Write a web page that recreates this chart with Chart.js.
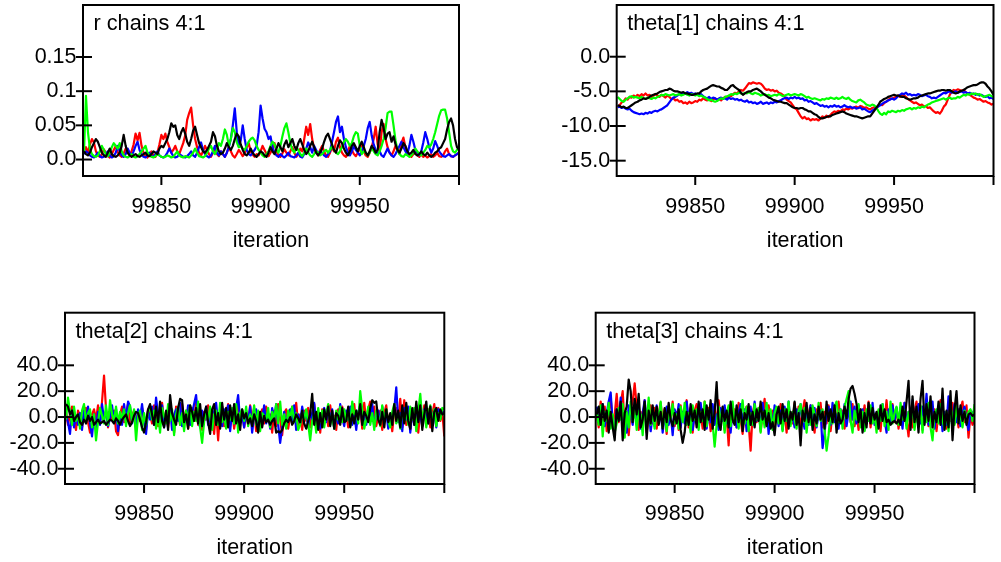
<!DOCTYPE html>
<html>
<head>
<meta charset="utf-8">
<script src="https://cdn.jsdelivr.net/npm/chart.js@4/dist/chart.umd.min.js"></script>
<style>
  html, body { margin: 0; padding: 0; background: #fff; }
  body { width: 1001px; height: 562px; position: relative; overflow: hidden; }
  .panel { position: absolute; }
</style>
</head>
<body>
<div class="panel" id="p1" style="left:0px;top:0px;width:470px;height:254px"><canvas id="c1"></canvas></div>
<div class="panel" id="p2" style="left:500px;top:0px;width:501px;height:254px"><canvas id="c2"></canvas></div>
<div class="panel" id="p3" style="left:0px;top:290px;width:470px;height:272px"><canvas id="c3"></canvas></div>
<div class="panel" id="p4" style="left:500px;top:290px;width:501px;height:272px"><canvas id="c4"></canvas></div>
<script>
// ---------- data ----------
const firstIteration = 99811;
const xTickValues = [99850, 99900, 99950, 100000];
const xTickLabels = ['99850', '99900', '99950', ''];
const chainColors = { red: '#ff0000', blue: '#0000ff', green: '#00ff00', black: '#000000' };

// r
const rRed = [
.012,.018,.010,.022,.030,.025,.012,.006,.004,.008,
.015,.010,.005,.003,.008,.014,.020,.011,.006,.004,
.009,.016,.010,.006,.012,.022,.038,.028,.039,.020,
.010,.005,.003,.007,.012,.006,.004,.010,.022,.036,
.030,.038,.026,.018,.010,.014,.020,.012,.008,.016,
.024,.035,.058,.068,.076,.050,.030,.018,.010,.006,
.012,.020,.014,.008,.004,.010,.016,.008,.005,.012,
.008,.004,.010,.018,.012,.006,.003,.008,.014,.010,
.005,.009,.018,.024,.012,.007,.004,.008,.006,.012,
.020,.014,.008,.005,.010,.016,.024,.012,.006,.004,
.009,.015,.010,.006,.012,.018,.010,.004,.008,.016,
.012,.030,.048,.036,.052,.030,.016,.010,.006,.014,
.020,.012,.006,.004,.010,.018,.012,.026,.032,.018,
.010,.006,.004,.012,.020,.014,.008,.005,.010,.016,
.024,.012,.006,.004,.010,.018,.030,.048,.022,.012,
.040,.052,.030,.018,.010,.006,.012,.020,.014,.008,
.024,.032,.018,.010,.006,.004,.008,.012,.006,.004,
.008,.004,.006,.003,.005,.008,.004,.006,.010,.005,
.004,.006,.012,.016,.008,.005,.004,.006,.008,.010];
const rBlue = [
.008,.012,.010,.006,.004,.003,.006,.010,.005,.003,
.004,.008,.012,.006,.003,.005,.010,.020,.012,.006,
.004,.008,.016,.010,.005,.012,.020,.026,.014,.008,
.004,.003,.006,.010,.005,.004,.008,.012,.006,.004,
.003,.005,.010,.016,.010,.005,.003,.004,.008,.006,
.004,.003,.005,.008,.012,.006,.004,.010,.018,.025,
.014,.008,.005,.003,.006,.012,.020,.010,.006,.012,
.008,.004,.010,.018,.030,.050,.075,.040,.020,.028,
.050,.030,.014,.008,.006,.010,.014,.020,.040,.079,
.060,.045,.040,.030,.034,.018,.010,.006,.004,.008,
.005,.003,.006,.010,.005,.004,.003,.006,.010,.004,
.003,.008,.016,.025,.018,.010,.020,.014,.008,.012,
.010,.006,.004,.008,.012,.026,.040,.055,.063,.040,
.048,.030,.018,.010,.006,.012,.020,.014,.010,.006,
.012,.020,.030,.046,.055,.035,.022,.014,.008,.012,
.006,.004,.010,.016,.010,.006,.004,.008,.014,.020,
.026,.018,.012,.008,.020,.036,.026,.014,.010,.006,
.012,.025,.040,.030,.018,.010,.016,.027,.020,.012,
.008,.005,.004,.006,.008,.005,.004,.006,.008,.010];
const rGreen = [
.010,.093,.040,.015,.008,.005,.004,.006,.012,.020,
.014,.008,.005,.010,.018,.024,.020,.016,.024,.012,
.006,.004,.003,.005,.008,.004,.003,.005,.008,.012,
.016,.020,.010,.006,.004,.003,.005,.008,.006,.004,
.003,.004,.006,.005,.003,.004,.008,.012,.006,.004,
.003,.005,.004,.003,.006,.010,.016,.010,.005,.004,
.003,.005,.010,.016,.020,.012,.008,.014,.024,.020,
.030,.044,.036,.020,.030,.046,.040,.025,.018,.020,
.016,.014,.020,.026,.030,.032,.028,.020,.014,.010,
.006,.004,.008,.012,.020,.026,.022,.014,.010,.020,
.034,.046,.053,.040,.024,.014,.010,.018,.014,.008,
.005,.010,.016,.010,.006,.004,.008,.012,.010,.006,
.008,.012,.014,.010,.014,.020,.014,.010,.008,.012,
.018,.026,.030,.026,.020,.024,.034,.040,.038,.020,
.008,.012,.010,.006,.010,.018,.012,.008,.006,.012,
.020,.030,.046,.068,.070,.070,.050,.028,.014,.008,
.005,.004,.008,.006,.004,.006,.010,.016,.012,.008,
.006,.010,.014,.020,.018,.022,.030,.040,.052,.064,
.072,.073,.073,.060,.040,.020,.012,.010,.014,.018];
const rBlack = [
.012,.008,.006,.010,.018,.024,.030,.026,.018,.010,
.006,.004,.010,.016,.008,.005,.004,.006,.010,.020,
.036,.020,.010,.006,.004,.006,.008,.005,.004,.006,
.008,.010,.006,.005,.008,.012,.010,.008,.016,.020,
.018,.024,.030,.040,.053,.048,.050,.036,.030,.040,
.046,.038,.026,.020,.030,.042,.048,.036,.024,.018,
.012,.010,.014,.020,.026,.040,.034,.020,.012,.008,
.010,.016,.024,.018,.014,.020,.030,.038,.034,.022,
.014,.008,.006,.010,.016,.010,.006,.004,.008,.012,
.010,.006,.004,.010,.018,.012,.008,.016,.024,.018,
.012,.022,.028,.018,.024,.030,.020,.014,.024,.030,
.022,.014,.008,.012,.020,.026,.018,.010,.006,.010,
.016,.026,.034,.038,.030,.022,.014,.010,.020,.028,
.024,.016,.010,.006,.012,.020,.024,.018,.012,.020,
.026,.018,.010,.006,.012,.020,.016,.010,.014,.040,
.058,.046,.030,.038,.040,.026,.034,.022,.014,.010,
.016,.024,.020,.012,.008,.010,.014,.008,.006,.008,
.012,.008,.006,.010,.006,.004,.006,.010,.012,.016,
.018,.024,.030,.044,.055,.060,.050,.030,.018,.014];
const rTickValues = [0, 0.05, 0.1, 0.15];
const rTickLabels = ['0.0', '0.05', '0.1', '0.15'];

// theta[1]
const t1Red = [
-7.2,-7.0,-6.6,-6.4,-6.0,-6.2,-5.8,-5.9,-5.6,-5.8,
-5.5,-5.7,-5.4,-5.6,-5.3,-5.6,-5.5,-5.8,-5.6,-5.4,
-5.6,-5.8,-5.5,-5.7,-5.9,-5.6,-5.8,-6.1,-6.0,-6.3,
-6.2,-6.5,-6.4,-6.7,-6.6,-6.8,-6.5,-6.7,-6.6,-6.4,
-6.5,-6.2,-6.3,-6.0,-6.2,-6.3,-6.1,-6.4,-6.2,-6.0,
-6.2,-6.1,-6.3,-6.0,-5.8,-5.9,-5.6,-5.7,-5.4,-5.2,
-5.3,-5.0,-4.8,-4.9,-4.6,-4.2,-3.8,-3.9,-3.7,-3.8,
-3.9,-3.8,-3.9,-4.2,-4.6,-4.8,-4.7,-4.9,-4.8,-5.0,
-4.9,-5.2,-5.3,-5.5,-5.8,-6.2,-6.4,-6.6,-7.0,-7.4,
-7.6,-8.1,-8.6,-8.9,-8.7,-9.0,-8.9,-9.2,-9.0,-9.1,
-9.0,-9.2,-8.9,-8.6,-8.8,-8.5,-8.7,-8.4,-8.1,-7.9,
-8.0,-7.8,-7.9,-7.6,-7.7,-7.5,-7.6,-7.4,-7.5,-7.3,
-7.2,-7.4,-7.1,-7.2,-7.4,-7.3,-7.5,-7.6,-7.4,-7.3,
-7.4,-7.1,-6.9,-7.0,-6.7,-6.5,-6.3,-6.0,-6.1,-5.9,
-5.8,-5.6,-5.8,-5.5,-5.6,-5.8,-6.1,-6.3,-6.5,-6.7,
-6.6,-6.8,-7.0,-6.9,-7.2,-7.1,-7.4,-7.3,-7.6,-7.9,
-8.1,-8.0,-8.2,-7.8,-7.2,-6.9,-6.2,-5.5,-5.0,-4.8,
-4.9,-4.7,-4.8,-4.9,-4.8,-5.1,-5.3,-5.5,-5.7,-5.9,
-6.0,-6.2,-6.1,-6.3,-6.5,-6.4,-6.6,-6.7,-6.9,-6.8];
const t1Blue = [
-7.3,-7.2,-7.4,-7.3,-7.5,-7.6,-7.5,-7.8,-8.0,-8.1,
-8.2,-8.3,-8.2,-8.3,-8.1,-8.2,-8.0,-8.1,-7.9,-7.8,
-7.9,-7.7,-7.6,-7.4,-7.2,-7.0,-6.6,-6.2,-5.9,-5.8,
-5.6,-5.4,-5.5,-5.2,-5.3,-5.1,-5.3,-5.2,-5.4,-5.3,
-5.5,-5.6,-5.4,-5.7,-5.9,-6.0,-5.8,-6.1,-5.9,-6.0,
-6.2,-6.0,-5.9,-6.1,-6.0,-6.2,-5.9,-6.1,-6.0,-6.2,
-6.1,-6.3,-6.2,-6.4,-6.5,-6.3,-6.6,-6.5,-6.7,-6.6,
-6.8,-6.7,-6.5,-6.8,-6.7,-6.6,-6.8,-6.6,-6.7,-6.5,
-6.6,-6.4,-6.3,-6.1,-6.0,-5.9,-6.1,-5.9,-6.0,-5.8,
-6.0,-5.9,-6.1,-6.0,-6.3,-6.2,-6.5,-6.4,-6.6,-6.8,
-6.7,-6.9,-7.1,-7.0,-7.2,-7.1,-7.3,-7.1,-7.2,-7.0,
-7.2,-7.1,-7.3,-7.2,-7.0,-7.2,-7.3,-7.2,-7.4,-7.3,
-7.5,-7.4,-7.3,-7.6,-7.5,-7.7,-7.9,-8.0,-7.8,-7.6,
-7.4,-7.2,-7.0,-6.8,-6.6,-6.5,-6.3,-6.2,-6.0,-6.2,
-6.0,-5.7,-5.5,-5.3,-5.4,-5.2,-5.5,-5.4,-5.6,-5.5,
-5.6,-5.4,-5.5,-5.7,-5.6,-5.5,-5.7,-5.8,-6.0,-5.9,
-6.0,-5.8,-5.6,-5.4,-5.2,-5.3,-5.1,-5.0,-5.2,-5.1,
-5.0,-5.2,-5.1,-5.0,-5.2,-5.1,-5.3,-5.2,-5.4,-5.3,
-5.5,-5.4,-5.6,-5.5,-5.7,-5.8,-5.7,-6.0,-5.9,-6.1];
const t1Green = [
-5.8,-6.1,-6.4,-6.5,-6.2,-6.0,-5.8,-5.7,-5.9,-5.8,
-5.9,-6.0,-5.8,-6.0,-6.1,-5.9,-6.0,-6.1,-5.9,-6.0,
-5.8,-5.7,-5.5,-5.6,-5.4,-5.5,-5.6,-5.5,-5.4,-5.6,
-5.5,-5.4,-5.6,-5.5,-5.3,-5.5,-5.6,-5.4,-5.5,-5.6,
-5.5,-5.7,-5.6,-5.8,-5.9,-6.1,-6.3,-6.2,-6.4,-6.5,
-6.4,-6.2,-6.0,-6.1,-5.8,-5.7,-5.6,-5.4,-5.5,-5.3,
-5.4,-5.2,-5.3,-5.4,-5.2,-5.3,-5.1,-5.3,-5.4,-5.2,
-5.3,-5.4,-5.6,-5.5,-5.4,-5.6,-5.5,-5.7,-5.6,-5.5,
-5.6,-5.4,-5.5,-5.7,-5.6,-5.5,-5.4,-5.6,-5.5,-5.4,
-5.5,-5.6,-5.4,-5.5,-5.7,-5.9,-5.8,-6.0,-6.1,-6.0,
-6.1,-6.2,-6.3,-6.1,-6.2,-6.0,-6.1,-5.9,-6.0,-6.1,
-5.9,-6.1,-6.0,-5.8,-6.0,-6.1,-5.9,-6.2,-6.4,-6.5,
-6.6,-6.3,-6.2,-6.4,-6.6,-6.9,-7.0,-7.1,-6.9,-7.0,
-7.3,-7.8,-8.2,-8.4,-8.1,-8.3,-7.9,-8.0,-7.8,-7.9,
-8.0,-7.8,-7.9,-7.7,-7.8,-7.6,-7.5,-7.4,-7.6,-7.4,
-7.5,-7.3,-7.4,-7.2,-7.3,-7.1,-6.9,-6.8,-6.6,-6.5,
-6.4,-6.3,-6.2,-6.1,-6.0,-6.2,-6.0,-5.9,-6.1,-6.0,
-6.0,-5.8,-5.9,-5.7,-5.5,-5.6,-5.4,-5.5,-5.3,-5.4,
-5.3,-5.5,-5.4,-5.6,-5.8,-5.7,-5.6,-5.5,-5.7,-5.8];
const t1Black = [
-7.0,-7.1,-7.3,-7.2,-7.4,-7.4,-7.2,-7.0,-6.8,-6.6,
-6.5,-6.3,-6.2,-6.0,-6.1,-6.0,-5.8,-5.6,-5.5,-5.4,
-5.3,-5.1,-5.0,-4.9,-4.8,-4.8,-4.6,-4.7,-4.9,-5.0,
-5.0,-5.1,-5.2,-5.1,-5.3,-5.3,-5.4,-5.5,-5.5,-5.4,
-5.3,-5.3,-5.0,-4.8,-4.7,-4.6,-4.4,-4.2,-4.1,-4.2,
-4.3,-4.3,-4.5,-4.6,-4.8,-4.8,-4.5,-4.2,-4.1,-4.4,
-4.6,-4.8,-5.2,-5.5,-5.3,-5.1,-5.0,-5.0,-4.8,-4.7,
-4.6,-4.8,-5.0,-5.3,-5.5,-5.7,-5.9,-6.0,-6.2,-6.3,
-6.4,-6.5,-6.5,-6.6,-6.7,-6.7,-6.9,-7.1,-7.3,-7.4,
-7.4,-7.5,-7.4,-7.4,-7.6,-7.7,-7.9,-7.9,-8.1,-8.3,
-8.4,-8.7,-8.9,-8.9,-8.8,-8.7,-8.6,-8.6,-8.4,-8.3,
-8.2,-8.1,-8.0,-7.9,-8.0,-8.2,-8.3,-8.4,-8.5,-8.6,
-8.6,-8.7,-8.8,-8.9,-8.8,-8.7,-8.6,-8.6,-8.2,-7.8,
-7.4,-7.0,-6.5,-6.3,-6.1,-6.0,-5.8,-5.7,-5.6,-5.5,
-5.6,-5.6,-5.7,-5.8,-5.8,-6.0,-6.1,-6.2,-6.1,-6.0,
-6.0,-5.9,-5.7,-5.6,-5.5,-5.4,-5.3,-5.3,-5.2,-5.1,
-5.0,-4.9,-4.9,-4.8,-4.8,-4.9,-4.8,-4.8,-5.0,-5.2,
-5.3,-5.2,-5.0,-4.9,-4.8,-4.6,-4.4,-4.3,-4.2,-4.1,
-4.1,-4.0,-3.8,-3.7,-3.7,-3.9,-4.3,-4.6,-5.0,-5.5];
const t1TickValues = [-15, -10, -5, 0];
const t1TickLabels = ['-15.0', '-10.0', '-5.0', '0.0'];

// theta[2]
const t2Red = [
4,-6,2,8,-3,-10,5,1,-8,3,
7,-4,-12,2,6,-2,9,-5,12,32,
6,-8,3,-2,5,-11,-14,2,8,-4,
3,10,-6,1,5,-9,4,-3,7,-2,
-10,6,2,-5,9,-1,-7,4,11,-3,
2,-8,6,0,-12,8,3,-6,10,-4,
5,-9,1,7,-3,12,-6,2,-10,4,
-2,9,-5,3,-13,6,-18,4,8,-7,
2,10,-4,6,-9,1,12,-3,5,-8,
3,-6,9,-2,7,-11,4,-1,6,-5,
8,-3,2,-12,5,-7,10,-2,-14,3,
6,-9,1,8,-4,11,-6,2,-10,5,
-3,7,-8,2,10,-5,3,-12,6,-1,
4,-7,9,-3,1,-10,6,-4,8,-2,
3,-8,5,-1,10,-6,2,7,-9,11,
-4,6,12,-3,8,-7,1,5,-10,3,
9,-5,2,-11,4,7,-2,14,-8,13,
-6,3,-10,5,1,8,-12,4,-3,9,
-4,6,-8,2,10,-5,7,-3,4,-15];
const t2Blue = [
2,-4,-13,5,-8,1,-6,3,-10,6,
-3,8,-5,-15,2,-9,4,-6,10,-2,
5,-7,-1,9,-4,6,-11,3,-6,10,
-2,12,8,-5,3,-8,6,-1,10,-4,
-13,5,-2,8,-6,15,1,-4,9,-8,
3,-5,7,-10,2,6,-3,11,-7,1,
-4,9,-6,3,10,17,-2,-8,5,-3,
8,-6,2,-9,4,11,-5,1,-7,6,
-2,9,-11,4,-5,7,17,-3,2,-8,
5,-4,8,-12,1,6,-7,3,-2,9,
-5,2,-9,7,-3,10,-6,-20,-8,4,
-7,3,6,-4,9,-10,2,-5,8,-1,
4,-8,5,-2,11,-6,3,-9,1,7,
-4,8,-3,6,-9,2,-5,10,-1,-7,
5,-2,8,-6,3,-10,4,9,-4,1,
-6,7,-3,10,-8,2,5,-5,8,-2,
4,-9,1,-3,6,23,-4,3,-11,7,
-2,8,-12,5,-6,9,-3,2,-7,6,
1,-5,8,-2,4,-8,6,-1,5,2];
const t2Green = [
-2,15,4,-6,8,-3,2,-9,5,10,
-4,3,6,-8,2,-18,-4,7,1,-5,
9,-6,13,2,-3,8,-5,4,-2,6,
-7,3,9,-4,6,-18,1,5,-10,3,
-6,4,8,-2,5,-9,3,-12,7,1,
-5,10,-3,6,-14,2,8,-6,3,-11,
5,-2,9,-7,4,-3,12,-8,-20,-4,
6,-3,8,-10,2,5,-6,11,-4,1,
-9,4,-2,7,-5,10,-12,3,6,-3,
8,-7,2,-4,9,-6,5,-11,3,1,
-3,7,-8,4,-2,10,-5,12,-6,2,
-9,5,-1,8,-4,3,-10,-6,4,-2,
6,-5,-18,-3,2,-12,7,-4,5,-8,
3,10,-6,1,-9,5,-2,8,-4,6,
-3,4,-7,12,2,5,-5,20,6,-9,
-2,8,-6,3,-10,5,1,-7,9,-4,
6,-3,-8,4,10,-5,2,-9,5,-1,
3,-6,8,-2,7,-11,4,18,-3,5,
-8,2,9,-4,6,-7,3,-2,7,6];
const t2Black = [
10,8,2,5,-3,0,2,-4,-6,-2,
-5,1,-3,0,-6,-4,-2,-5,-4,-3,
-6,-4,-2,-3,-5,-1,-3,-6,-2,0,
2,-3,-7,-4,1,4,3,-2,-8,-12,
-4,6,10,2,-6,8,-4,12,-3,-8,
5,-10,17,3,-2,-6,7,14,13,-4,
2,-9,9,4,-3,7,-5,10,-7,2,
8,-4,-13,6,10,-6,3,-9,11,-2,
7,-8,9,-3,10,-5,2,-10,6,-1,
3,-5,-1,-7,2,-3,-12,4,-8,1,
-4,-2,-6,-3,-1,-12,-11,-12,-10,-5,
-2,-4,0,-6,-3,2,-1,-4,5,-5,
-9,-3,2,18,-6,4,-10,3,-8,6,
-2,8,-7,5,-9,3,1,-6,7,-4,
-3,8,-8,2,-5,5,-2,10,-6,4,
1,-4,7,13,11,12,-2,-6,4,-8,
6,-4,3,-6,10,-3,5,-8,9,-5,
11,-3,-9,7,-6,12,-4,9,-10,2,
12,-5,8,-11,4,7,-3,6,2,3];

// theta[3]
const t3Red = [
5,-8,12,-3,8,-11,4,15,-6,2,
18,-4,10,20,-8,3,-14,6,12,26,
8,-10,4,-6,13,-12,2,9,-5,7,
-9,3,11,-4,6,-13,8,-2,12,-7,
4,-10,9,-3,6,13,-8,2,-12,5,
10,-5,3,-9,12,-2,7,-11,4,8,
-6,13,-3,5,-10,2,-22,9,-4,6,
-8,11,-2,-13,4,8,-5,-26,3,10,
-4,7,-11,2,14,-6,9,-3,5,-9,
6,-2,10,-8,3,-12,7,1,-5,11,
-3,8,-10,4,13,-7,2,9,-4,-12,
6,-2,11,-8,4,-5,9,-11,3,7,
-6,12,-3,5,-9,2,8,-4,10,-7,
3,-10,6,-2,9,-5,12,-8,4,1,
-7,5,-11,8,-3,13,-6,2,10,-4,
7,-9,3,-5,11,-2,-15,6,-8,4,
12,-4,8,-10,2,5,-7,9,-3,6,
-11,4,13,-6,2,-9,7,-3,11,-5,
3,-8,6,12,-4,9,-16,2,-6,-2];
const t3Blue = [
8,-4,2,10,-7,3,12,19,-5,-10,
6,-2,15,-8,4,-12,9,2,-6,11,
-4,8,-9,3,13,-5,6,-11,2,-7,
9,-3,5,-12,1,8,-6,3,-14,6,
-2,10,-8,4,-5,12,-3,7,-10,2,
5,-7,11,-2,6,-9,3,-4,10,-6,
2,-10,7,-3,9,-5,4,-12,6,1,
-8,3,10,-4,6,-11,2,8,-6,12,
-3,5,-9,11,-2,7,-13,4,-6,9,
2,-7,5,-10,8,-3,12,-5,1,-8,
6,-4,10,-2,-9,4,-6,9,-3,7,
-8,2,5,-24,-12,3,8,-6,11,-4,
2,-9,6,-3,10,-7,4,12,-2,8,
-5,9,-3,6,-10,2,7,-4,11,-6,
3,-8,5,10,-2,-12,6,-5,9,-3,
7,-4,2,-9,11,-6,4,-2,13,-7,
3,10,-5,8,-3,18,-6,2,12,-9,
5,-3,9,-11,4,-6,16,3,-8,10,
-4,6,-7,3,8,-2,-10,5,2,6];
const t3Green = [
3,-6,9,-15,4,-3,11,-9,2,-12,
-5,7,-2,10,-16,4,-8,12,-3,6,
-10,5,2,-14,9,-4,15,-6,3,-9,
7,-3,12,-8,4,-11,6,-2,10,-5,
2,-9,8,-4,11,-6,3,-12,9,-2,
6,-10,4,-3,12,-7,2,10,-5,-23,
-6,8,-3,5,-12,3,9,-7,12,-4,
5,-9,2,13,-5,8,-11,3,-6,10,
-2,7,-12,4,-8,11,-3,6,-10,3,
8,-5,2,-11,6,-3,12,-7,4,-2,
-9,5,10,-4,7,-12,3,-6,9,2,
-7,11,-3,6,-10,-26,-14,4,-5,8,
12,-4,6,-9,8,14,20,-3,-12,5,
-2,10,-8,4,-11,6,-3,9,-5,2,
-12,6,-3,10,-7,4,-10,12,-5,3,
8,-6,11,-2,5,-9,4,-3,7,-10,
3,-7,9,-12,5,-4,11,-8,-18,2,
6,-5,10,-3,-9,4,-11,7,2,-6,
9,-4,3,-8,5,-2,4,6,-3,10];
const t3Black = [
2,8,-6,10,-3,5,-12,4,-8,-18,
6,-3,12,-18,3,8,29,20,-4,14,
2,18,-8,-2,12,-17,5,-5,9,-3,
8,-6,4,-9,7,-4,11,-2,-7,3,
-5,6,-10,-20,-12,4,-6,10,-3,5,
-8,12,-4,6,-10,9,-2,13,-9,4,
27,-5,-10,8,-3,5,-8,12,-2,-6,
9,-4,6,-11,3,-2,10,-6,4,-8,
6,-3,12,-2,5,-7,3,-9,-4,-14,
2,8,-5,10,-3,6,-9,4,-2,12,
-6,3,-22,5,-3,11,-4,7,-10,2,
-5,8,-2,4,-9,12,-3,6,-4,9,
-12,3,-5,-2,8,-1,14,22,24,18,
10,-4,6,-12,3,-8,11,-5,7,-2,
4,-9,9,-3,6,-4,-2,-6,-4,-3,
-5,-2,-6,8,-3,12,28,-10,16,-4,
8,-12,14,28,-6,10,-3,16,-8,4,
-4,12,-6,22,-10,5,-8,20,-18,6,
20,-5,9,-3,4,-6,2,3,1,2];
const thetaTickValues = [-40, -20, 0, 20, 40];
const thetaTickLabels = ['-40.0', '-20.0', '0.0', '20.0', '40.0'];

const iterations = rRed.map((_, i) => firstIteration + i);

// ---------- drawing ----------
const FONT_FAMILY = '"Liberation Sans", Arial, sans-serif';
Chart.defaults.font.family = FONT_FAMILY;
Chart.defaults.font.size = 21.5;
Chart.defaults.color = '#000';

const framePlugin = {
  id: 'frame',
  afterDraw(chart, args, opts) {
    const { ctx, chartArea: a, scales: { x, y } } = chart;
    ctx.save();
    ctx.strokeStyle = '#000';
    ctx.lineWidth = 2;
    ctx.strokeRect(a.left, a.top, a.right - a.left, a.bottom - a.top);
    y.ticks.forEach(t => {
      const py = y.getPixelForValue(t.value);
      ctx.beginPath(); ctx.moveTo(a.left - 7, py); ctx.lineTo(a.left + 9, py); ctx.stroke();
    });
    x.ticks.forEach(t => {
      const px = x.getPixelForValue(t.value);
      ctx.beginPath(); ctx.moveTo(px, a.bottom); ctx.lineTo(px, a.bottom + 9); ctx.stroke();
    });
    ctx.font = '21.7px ' + FONT_FAMILY;
    ctx.fillStyle = '#000';
    ctx.textAlign = 'left';
    ctx.textBaseline = 'alphabetic';
    ctx.fillText(opts.text, a.left + 10.5, a.top + 25);
    ctx.restore();
  }
};

function makePanel(id, title, chains, yTickValues, yTickLabels, yMin, yMax, box) {
  const ds = (vals, color) => ({
    data: vals.map((v, i) => ({ x: iterations[i], y: v })),
    borderColor: color, backgroundColor: color,
    borderWidth: 2.2, pointRadius: 0, tension: 0, fill: false,
    borderJoinStyle: 'round'
  });
  new Chart(document.getElementById(id), {
    type: 'line',
    data: {
      datasets: [
        ds(chains.black, chainColors.black),
        ds(chains.green, chainColors.green),
        ds(chains.blue, chainColors.blue),
        ds(chains.red, chainColors.red)
      ]
    },
    options: {
      responsive: true, maintainAspectRatio: false, animation: false,
      devicePixelRatio: 1,
      layout: { padding: { left: 0, right: box.right, top: box.top, bottom: 0 } },
      plugins: { legend: { display: false }, tooltip: { enabled: false }, frame: { text: title } },
      scales: {
        x: {
          type: 'linear', min: 99810.5, max: 100000,
          afterBuildTicks: s => { s.ticks = xTickValues.map(v => ({ value: v })); },
          afterFit: s => { s.height = 78; s.paddingLeft = 0; s.paddingRight = 0; },
          grid: { display: false, drawTicks: false },
          border: { display: false },
          ticks: { autoSkip: false, maxRotation: 0, padding: box.xPad, callback: (v, i) => xTickLabels[i] },
          title: { display: true, text: 'iteration', padding: { top: 0, bottom: box.titlePad } }
        },
        y: {
          type: 'linear', min: yMin, max: yMax,
          afterBuildTicks: s => { s.ticks = yTickValues.map(v => ({ value: v })); },
          afterFit: s => { s.width = box.left; s.paddingTop = 0; s.paddingBottom = 0; },
          grid: { display: false, drawTicks: false },
          border: { display: false },
          ticks: { autoSkip: false, padding: 6.5, callback: (v, i) => yTickLabels[i] }
        }
      }
    },
    plugins: [framePlugin]
  });
}

makePanel('c1', 'r chains 4:1', { red: rRed, blue: rBlue, green: rGreen, black: rBlack },
  rTickValues, rTickLabels, -0.0241, 0.2261, { left: 83, right: 11, top: 5, titlePad: 0, xPad: 18.5 });
makePanel('c2', 'theta[1] chains 4:1', { red: t1Red, blue: t1Blue, green: t1Green, black: t1Black },
  t1TickValues, t1TickLabels, -17.21, 7.46, { left: 116.7, right: 7.5, top: 5, titlePad: 0, xPad: 18.5 });
makePanel('c3', 'theta[2] chains 4:1', { red: t2Red, blue: t2Blue, green: t2Green, black: t2Black },
  thetaTickValues, thetaTickLabels, -51.8, 80.7, { left: 65, right: 25.7, top: 22.7, titlePad: 1, xPad: 17 });
makePanel('c4', 'theta[3] chains 4:1', { red: t3Red, blue: t3Blue, green: t3Green, black: t3Black },
  thetaTickValues, thetaTickLabels, -51.8, 80.7, { left: 95.7, right: 26.5, top: 22.7, titlePad: 1, xPad: 17 });
</script>
</body>
</html>
